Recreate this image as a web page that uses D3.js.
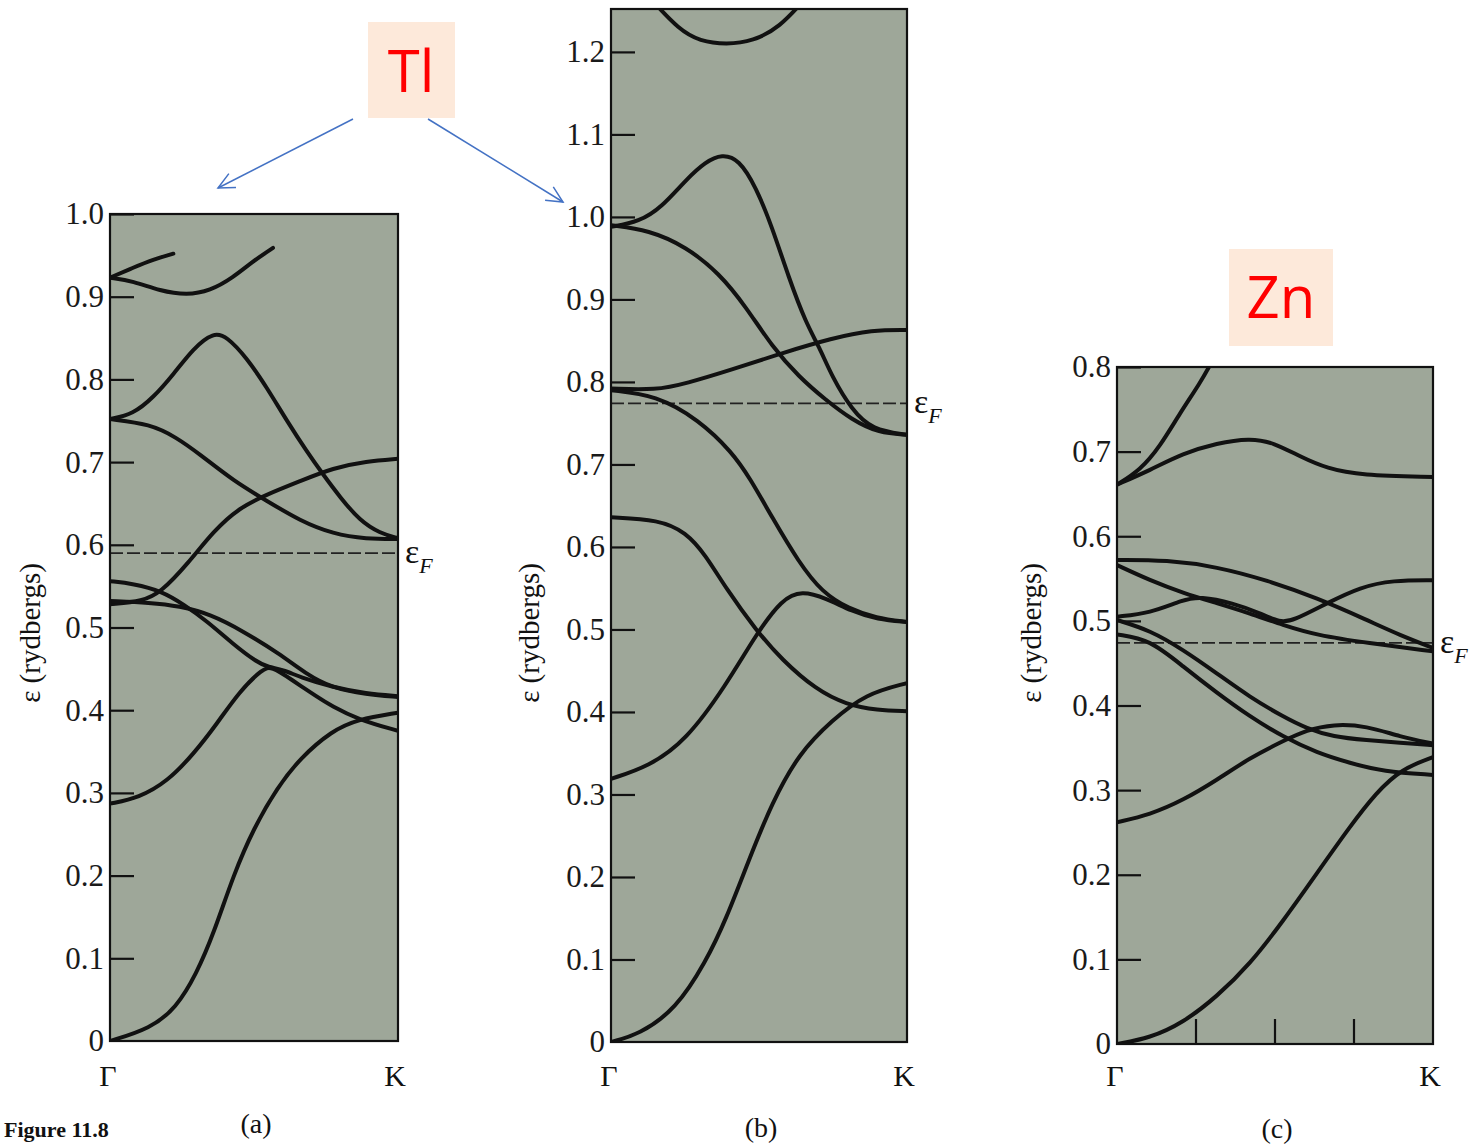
<!DOCTYPE html>
<html>
<head>
<meta charset="utf-8">
<script src="https://cdn.jsdelivr.net/npm/d3@7"></script>
<style>
  body { margin: 0; background: #fff; }
  text { font-family: "Liberation Serif", "Times New Roman", serif; }
</style>
</head>
<body>
<svg width="1474" height="1145"></svg>
<script>
// ---- data: bands as [k fraction from Γ to K, energy in rydbergs] ----
var bandsA = [
  [[0,0],[0.14,0.015],[0.23,0.04],[0.30,0.081],[0.36,0.13],[0.43,0.202],[0.50,0.258],[0.58,0.306],[0.66,0.342],[0.77,0.375],[0.86,0.389],[1,0.397]],
  [[0,0.287],[0.10,0.294],[0.20,0.314],[0.29,0.347],[0.37,0.383],[0.45,0.423],[0.53,0.450],[0.56,0.453],[0.63,0.437],[0.72,0.416],[0.77,0.405],[0.86,0.389],[1,0.375]],
  [[0,0.528],[0.115,0.532],[0.175,0.542],[0.27,0.577],[0.36,0.617],[0.45,0.645],[0.545,0.661],[0.66,0.677],[0.775,0.693],[0.89,0.701],[1,0.704]],
  [[0,0.532],[0.14,0.53],[0.24,0.526],[0.35,0.516],[0.46,0.496],[0.59,0.468],[0.68,0.444],[0.77,0.427],[0.89,0.419],[1,0.416]],
  [[0,0.556],[0.08,0.553],[0.18,0.544],[0.255,0.528],[0.336,0.508],[0.427,0.48],[0.51,0.458],[0.55,0.452],[0.60,0.449],[0.66,0.440],[0.77,0.428],[0.89,0.420],[1,0.417]],
  [[0,0.752],[0.08,0.758],[0.15,0.778],[0.22,0.806],[0.29,0.838],[0.36,0.857],[0.405,0.852],[0.475,0.826],[0.545,0.79],[0.614,0.75],[0.683,0.713],[0.74,0.685],[0.80,0.657],[0.868,0.629],[0.937,0.614],[1,0.608]],
  [[0,0.752],[0.14,0.746],[0.23,0.73],[0.31,0.71],[0.43,0.677],[0.545,0.653],[0.66,0.629],[0.775,0.613],[0.89,0.607],[1,0.607]],
  [[0,0.923],[0.08,0.935],[0.15,0.945],[0.22,0.952]],
  [[0,0.923],[0.08,0.919],[0.174,0.907],[0.267,0.902],[0.347,0.907],[0.427,0.923],[0.497,0.943],[0.566,0.959]]
];
var bandsB = [
  [[0.14,1.262],[0.23,1.227],[0.30,1.213],[0.39,1.209],[0.48,1.213],[0.57,1.23],[0.65,1.262]],
  [[0,0.988],[0.095,0.994],[0.172,1.012],[0.253,1.045],[0.32,1.067],[0.375,1.076],[0.432,1.07],[0.49,1.036],[0.544,0.988],[0.60,0.927],[0.659,0.871],[0.703,0.843],[0.747,0.806],[0.814,0.766],[0.882,0.742],[1,0.736]],
  [[0,0.99],[0.128,0.984],[0.253,0.964],[0.365,0.932],[0.456,0.891],[0.544,0.843],[0.635,0.806],[0.726,0.778],[0.814,0.754],[0.905,0.738],[1,0.736]],
  [[0,0.792],[0.152,0.79],[0.253,0.798],[0.409,0.815],[0.578,0.835],[0.747,0.853],[0.882,0.863],[1,0.863]],
  [[0,0.79],[0.152,0.784],[0.297,0.754],[0.409,0.715],[0.47,0.683],[0.544,0.636],[0.635,0.581],[0.713,0.545],[0.804,0.525],[0.895,0.514],[1,0.509]],
  [[0,0.636],[0.162,0.633],[0.253,0.618],[0.32,0.59],[0.388,0.55],[0.49,0.499],[0.578,0.463],[0.693,0.427],[0.794,0.409],[0.9,0.402],[1,0.401]],
  [[0,0.319],[0.128,0.334],[0.253,0.365],[0.388,0.432],[0.49,0.494],[0.578,0.537],[0.645,0.547],[0.726,0.538],[0.814,0.522],[0.9,0.512],[1,0.509]],
  [[0,0],[0.095,0.009],[0.22,0.04],[0.32,0.097],[0.388,0.148],[0.466,0.221],[0.544,0.29],[0.635,0.35],[0.747,0.39],[0.86,0.422],[1,0.435]]
];
var bandsC = [
  [[0,0.661],[0.073,0.678],[0.136,0.706],[0.2,0.746],[0.263,0.781],[0.30,0.806]],
  [[0,0.661],[0.104,0.678],[0.209,0.698],[0.316,0.71],[0.42,0.716],[0.494,0.711],[0.58,0.694],[0.665,0.68],[0.77,0.672],[1,0.67]],
  [[0,0.572],[0.158,0.572],[0.316,0.564],[0.475,0.548],[0.633,0.527],[0.791,0.501],[0.896,0.483],[1,0.468]],
  [[0,0.566],[0.104,0.548],[0.209,0.533],[0.316,0.521],[0.42,0.509],[0.525,0.495],[0.633,0.483],[0.791,0.474],[1,0.464]],
  [[0,0.505],[0.104,0.509],[0.209,0.525],[0.263,0.529],[0.367,0.521],[0.453,0.509],[0.516,0.498],[0.557,0.5],[0.665,0.521],[0.77,0.54],[0.873,0.548],[1,0.548]],
  [[0,0.501],[0.104,0.489],[0.209,0.466],[0.316,0.438],[0.42,0.41],[0.525,0.387],[0.6,0.373],[0.684,0.363],[0.79,0.359],[0.896,0.356],[1,0.353]],
  [[0,0.484],[0.104,0.478],[0.209,0.446],[0.316,0.415],[0.42,0.387],[0.525,0.363],[0.633,0.344],[0.737,0.332],[0.842,0.322],[1,0.318]],
  [[0,0.262],[0.104,0.271],[0.209,0.288],[0.316,0.312],[0.42,0.338],[0.525,0.358],[0.6,0.371],[0.684,0.378],[0.79,0.376],[0.896,0.363],[1,0.355]],
  [[0,0],[0.104,0.007],[0.209,0.025],[0.316,0.056],[0.42,0.094],[0.525,0.145],[0.633,0.202],[0.737,0.257],[0.82,0.297],[0.9,0.325],[1,0.339]]
];
var ticksA = [0,0.1,0.2,0.3,0.4,0.5,0.6,0.7,0.8,0.9,1.0];
var ticksB = [0,0.1,0.2,0.3,0.4,0.5,0.6,0.7,0.8,0.9,1.0,1.1,1.2];
var ticksC = [0,0.1,0.2,0.3,0.4,0.5,0.6,0.7,0.8];
var fermi = [0.59, 0.774, 0.474];
var kTicksC = [0.25, 0.5, 0.75];
var panelNames = ["(a)", "(b)", "(c)"];

var svg = d3.select("svg");
var plotFill = "#9ea799";
var ink = "#111";

var panels = [
  {bands: bandsA, ticks: ticksA, ef: fermi[0], name: panelNames[0], x0: 110, x1: 398, yb: 1041, yt: 214, ymax: 1.0, ylab: 30, labY: 1133, kTicks: []},
  {bands: bandsB, ticks: ticksB, ef: fermi[1], name: panelNames[1], x0: 611, x1: 907, yb: 1042, yt: 9, ymax: 1.252, ylab: 529, labY: 1137, kTicks: []},
  {bands: bandsC, ticks: ticksC, ef: fermi[2], name: panelNames[2], x0: 1117, x1: 1433, yb: 1044, yt: 367, ymax: 0.8, ylab: 1031, labY: 1138, kTicks: kTicksC}
];

panels.forEach(function(p, i) {
  var x = d3.scaleLinear().domain([0, 1]).range([p.x0, p.x1]);
  var y = d3.scaleLinear().domain([0, p.ymax]).range([p.yb, p.yt]);
  var g = svg.append("g");

  g.append("clipPath").attr("id", "clip" + i)
    .append("rect").attr("x", p.x0).attr("y", p.yt).attr("width", p.x1 - p.x0).attr("height", p.yb - p.yt);

  g.append("rect")
    .attr("x", p.x0).attr("y", p.yt)
    .attr("width", p.x1 - p.x0).attr("height", p.yb - p.yt)
    .attr("fill", plotFill);

  // fermi level
  g.append("line")
    .attr("x1", p.x0).attr("x2", p.x1)
    .attr("y1", y(p.ef)).attr("y2", y(p.ef))
    .attr("stroke", "#222").attr("stroke-width", 1.8)
    .attr("stroke-dasharray", "13,4");

  var line = d3.line()
    .x(function(d) { return x(d[0]); })
    .y(function(d) { return y(d[1]); })
    .curve(d3.curveBasis);

  g.append("g").attr("clip-path", "url(#clip" + i + ")")
    .selectAll("path").data(p.bands).enter().append("path")
    .attr("d", line)
    .attr("fill", "none")
    .attr("stroke", ink)
    .attr("stroke-width", 4)
    .attr("stroke-linecap", "round");

  // frame
  g.append("rect")
    .attr("x", p.x0).attr("y", p.yt)
    .attr("width", p.x1 - p.x0).attr("height", p.yb - p.yt)
    .attr("fill", "none").attr("stroke", ink).attr("stroke-width", 2.2);

  // left axis, ticks pointing inward
  var axis = d3.axisLeft(y)
    .tickValues(p.ticks)
    .tickSize(-24)
    .tickPadding(6)
    .tickFormat(function(d) { return d === 0 ? "0" : d3.format(".1f")(d); });
  var ax = g.append("g").attr("transform", "translate(" + p.x0 + ",0)").call(axis);
  ax.select(".domain").remove();
  ax.selectAll(".tick line").attr("stroke", ink).attr("stroke-width", 2.2)
    .filter(function(d) { return d === 0; }).remove();
  ax.selectAll(".tick text")
    .style("font-family", "'Liberation Serif', serif")
    .style("font-size", "31px").style("fill", "#1a1a1a");

  // bottom k ticks (panel c)
  g.selectAll(".ktick").data(p.kTicks).enter().append("line")
    .attr("x1", function(d) { return x(d); }).attr("x2", function(d) { return x(d); })
    .attr("y1", p.yb).attr("y2", p.yb - 25)
    .attr("stroke", ink).attr("stroke-width", 2.2);

  // Γ and K
  g.append("text").attr("x", x(0) - 2).attr("y", 1086).attr("text-anchor", "middle")
    .style("font-size", "30px").style("fill", ink).text("Γ");
  g.append("text").attr("x", x(1) - 3).attr("y", 1086).attr("text-anchor", "middle")
    .style("font-size", "30px").style("fill", ink).text("K");
  g.append("text").attr("x", (p.x0 + p.x1) / 2 + 2).attr("y", p.labY).attr("text-anchor", "middle")
    .style("font-size", "28px").style("fill", ink).text(p.name);

  // y label
  g.append("text")
    .attr("transform", "translate(" + (p.ylab + 10) + "," + 633 + ") rotate(-90)")
    .attr("text-anchor", "middle")
    .style("font-size", "29px").style("fill", ink)
    .text("ε  (rydbergs)");

  // εF label
  var ef = g.append("text").attr("x", p.x1 + 7).attr("y", y(p.ef) + 10)
    .style("font-size", "34px").style("fill", ink);
  ef.append("tspan").text("ε");
  ef.append("tspan").attr("dy", 10).attr("dx", 0).style("font-size", "22px").style("font-style", "italic").text("F");
});

// annotation boxes
function tag(x, y, w, h, label, tx, ty) {
  svg.append("rect").attr("x", x).attr("y", y).attr("width", w).attr("height", h).attr("fill", "#fde9da");
  svg.append("text").attr("x", tx).attr("y", ty).attr("text-anchor", "middle")
    .style("font-family", "'Open Sans', 'Noto Sans', sans-serif")
    .style("font-size", "58px").style("fill", "#ff0000").text(label);
}
tag(368, 22, 87, 96, "Tl", 411, 92);
tag(1229, 249, 104, 97, "Zn", 1281, 318);

// arrows
var blue = "#4472c4";
function arrow(xa, ya, xb, yb) {
  svg.append("line").attr("x1", xa).attr("y1", ya).attr("x2", xb).attr("y2", yb)
    .attr("stroke", blue).attr("stroke-width", 1.5);
  var ang = Math.atan2(yb - ya, xb - xa), L = 18, spread = 0.45;
  var pts = [
    [xb - L * Math.cos(ang - spread), yb - L * Math.sin(ang - spread)],
    [xb, yb],
    [xb - L * Math.cos(ang + spread), yb - L * Math.sin(ang + spread)]
  ];
  svg.append("path").attr("d", d3.line()(pts))
    .attr("fill", "none").attr("stroke", blue).attr("stroke-width", 1.5);
}
arrow(353, 119, 218, 188);
arrow(428, 119, 563, 202);

// caption at the bottom edge
svg.append("text").attr("x", 4).attr("y", 1137)
  .style("font-size", "22px").style("font-weight", "bold").style("fill", ink).text("Figure 11.8");
</script>
</body>
</html>
